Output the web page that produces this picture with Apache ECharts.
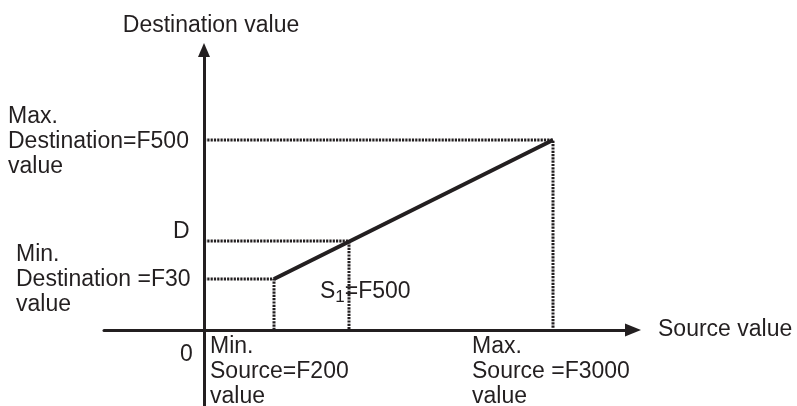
<!DOCTYPE html>
<html>
<head>
<meta charset="utf-8">
<script src="https://cdn.jsdelivr.net/npm/echarts@6/dist/echarts.min.js"></script>
<style>html,body{margin:0;padding:0;background:#fff;}#chart{width:797px;height:406px;}</style>
</head>
<body>
<div id="chart"></div>
<script>
// Schematic values (diagram units, origin at 0)
const sourceMarks = [70, 145, 349];      // Min. source, S1, Max. source
const destMarks = [51, 89, 190];         // Min. destination, D, Max. destination
const sourceTickLabels = ['Min.\nSource=F200\nvalue', '{t|S}{sub|1}{t|=F500}', 'Max.\nSource =F3000\nvalue'];
const destTickLabels = ['Min.\nDestination =F30\nvalue', 'D', 'Max.\nDestination=F500\nvalue'];
const originLabel = '0';
const axisNames = ['Source value', 'Destination value'];
const xRange = [-100, 429];
const yRange = [-76, 280];

const ink = '#231f20';
const font = "'Liberation Sans', Arial, sans-serif";
const fontSize = 23;

const guideSeries = sourceMarks.map((s, i) => ({
  type: 'line',
  data: [[0, destMarks[i]], [s, destMarks[i]], [s, 0]],
  symbol: 'none',
  silent: true,
  lineStyle: { color: ink, width: 3, type: [2.2, 1.1] },
  z: 2
}));

const destOffsets = [[-188, 1], [-31, -9], [-196, 2]];
const srcOffsets = [[-64, 42], [-29, -38], [-81, 42]];
const labelData = [];
destTickLabels.forEach((t, i) => labelData.push({ value: [0, destMarks[i]], text: t, label: { offset: destOffsets[i] } }));
sourceTickLabels.forEach((t, i) => labelData.push({ value: [sourceMarks[i], 0], text: t, label: { offset: srcOffsets[i] } }));
labelData.push({ value: [0, 0], text: originLabel, label: { offset: [-24, 25] } });

const chart = echarts.init(document.getElementById('chart'), null, { renderer: 'canvas' });
chart.setOption({
  animation: false,
  backgroundColor: '#fff',
  grid: { left: 104, right: 164, top: 50, bottom: 0, containLabel: false },
  xAxis: {
    type: 'value', min: xRange[0], max: xRange[1],
    name: axisNames[0], nameLocation: 'end', nameGap: 25,
    nameTextStyle: { color: ink, fontSize: fontSize, fontFamily: font, padding: [0, 0, 10, 0] },
    axisLine: { show: true, onZero: true, symbol: ['none', 'triangle'], symbolSize: [13, 16], lineStyle: { color: ink, width: 3 } },
    axisTick: { show: false }, axisLabel: { show: false }, splitLine: { show: false }
  },
  yAxis: {
    type: 'value', min: yRange[0], max: yRange[1],
    name: axisNames[1], nameLocation: 'end', nameGap: 13,
    nameTextStyle: { color: ink, fontSize: fontSize, fontFamily: font, padding: [0, 0, 0, 14] },
    axisLine: { show: true, onZero: true, symbol: ['none', 'triangle'], symbolSize: [12, 14], lineStyle: { color: ink, width: 3 } },
    axisTick: { show: false }, axisLabel: { show: false }, splitLine: { show: false }
  },
  series: guideSeries.concat([
    {
      type: 'line',
      data: [[sourceMarks[0], destMarks[0]], [sourceMarks[2], destMarks[2]]],
      symbol: 'none', silent: true,
      lineStyle: { color: ink, width: 4 },
      z: 3
    },
    {
      type: 'scatter',
      data: labelData,
      symbolSize: 1,
      itemStyle: { color: 'rgba(0,0,0,0)', opacity: 1 },
      silent: true,
      z: 4,
      label: {
        show: true,
        position: 'inside',
        align: 'left',
        verticalAlign: 'middle',
        color: ink,
        opacity: 1,
        fontFamily: font,
        fontSize: fontSize,
        lineHeight: 25,
        formatter: p => p.data.text,
        rich: {
          t: { color: ink, fontFamily: font, fontSize: fontSize },
          sub: { color: ink, fontFamily: font, fontSize: 17, padding: [10, 0, 0, 0] }
        }
      }
    }
  ])
});
</script>
</body>
</html>
